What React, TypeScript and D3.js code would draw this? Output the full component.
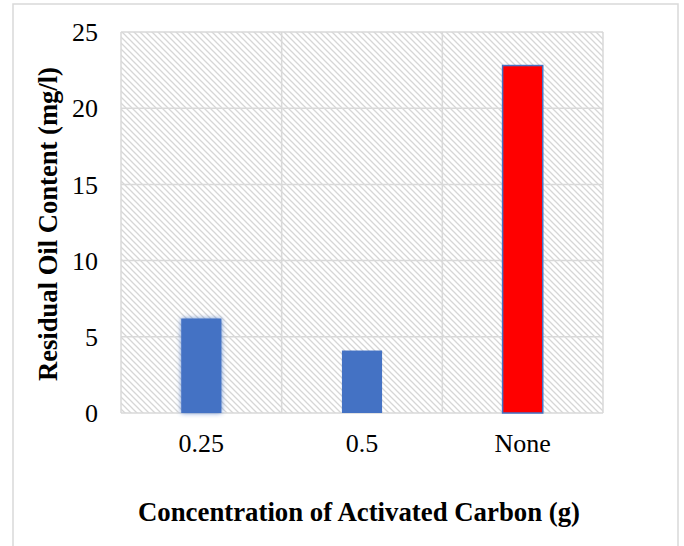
import React from "react";
import * as d3 from "d3";

const categories = ["0.25", "0.5", "None"];
const oilValues = [6.2, 4.1, 22.8];
const yTicks = [0, 5, 10, 15, 20, 25];

const W = 684;
const H = 546;
const plot = { left: 121, right: 603, top: 32, bottom: 413 };
const grid = "#d9d9d9";
const blue = "#4472C4";
const font = "'Liberation Serif', 'Times New Roman', serif";

export default function App() {
  const x = d3.scaleBand().domain(categories).range([plot.left, plot.right]).padding(0);
  const y = d3.scaleLinear().domain([0, 25]).range([plot.bottom, plot.top]);
  const barW = x.bandwidth() * 0.25;

  return (
    <svg width={W} height={H} style={{ position: "absolute", left: 0, top: 0, background: "#fff" }}>
      <defs>
        <pattern id="hatch" patternUnits="userSpaceOnUse" width={6} height={6}>
          <path d="M-1,-1 L7,7 M-4,2 L2,8 M4,-2 L8,2" stroke="#d6d6d6" strokeWidth={1.3} />
        </pattern>
        <filter id="glow" x="-50%" y="-20%" width="200%" height="140%">
          <feGaussianBlur stdDeviation={2.5} />
        </filter>
      </defs>

      {/* outer frame */}
      <path d={`M13,${H} V4 H678 V${H}`} fill="none" stroke={grid} strokeWidth={1.5} />

      {/* plot background */}
      <rect x={plot.left} y={plot.top} width={plot.right - plot.left} height={plot.bottom - plot.top} fill="url(#hatch)" />

      {/* grid */}
      {yTicks.map((t) => (
        <line key={"h" + t} x1={plot.left} x2={plot.right} y1={y(t)} y2={y(t)} stroke={grid} strokeWidth={1.5} />
      ))}
      {[...categories.map((c) => x(c)!), plot.right].map((v, i) => (
        <line key={"v" + i} x1={v} x2={v} y1={plot.top} y2={plot.bottom} stroke={grid} strokeWidth={1.5} />
      ))}

      {/* bars */}
      {categories.map((c, i) => {
        const cx = x(c)! + x.bandwidth() / 2;
        const top = y(oilValues[i]);
        const isRed = c === "None";
        return (
          <g key={c}>
            {i === 0 && (
              <rect x={cx - barW / 2} y={top} width={barW} height={plot.bottom - top} fill={blue} opacity={0.8} filter="url(#glow)" />
            )}
            <rect
              x={cx - barW / 2}
              y={top}
              width={barW}
              height={plot.bottom - top}
              fill={isRed ? "#ff0000" : blue}
              stroke={isRed ? blue : "none"}
              strokeWidth={1.5}
            />
          </g>
        );
      })}

      {/* y tick labels */}
      {yTicks.map((t) => (
        <text key={"t" + t} x={98} y={y(t)} dy="0.35em" textAnchor="end" fontFamily={font} fontSize={26} fill="#000">
          {t}
        </text>
      ))}

      {/* x tick labels */}
      {categories.map((c) => (
        <text key={"x" + c} x={x(c)! + x.bandwidth() / 2} y={452} textAnchor="middle" fontFamily={font} fontSize={26} fill="#000">
          {c}
        </text>
      ))}

      {/* axis titles */}
      <text x={359} y={521} textAnchor="middle" fontFamily={font} fontSize={26.8} fontWeight="bold" fill="#000">
        Concentration of Activated Carbon (g)
      </text>
      <text
        transform={`translate(57,224) rotate(-90)`}
        textAnchor="middle"
        fontFamily={font}
        fontSize={26.6}
        fontWeight="bold"
        fill="#000"
      >
        Residual Oil Content (mg/l)
      </text>
    </svg>
  );
}
